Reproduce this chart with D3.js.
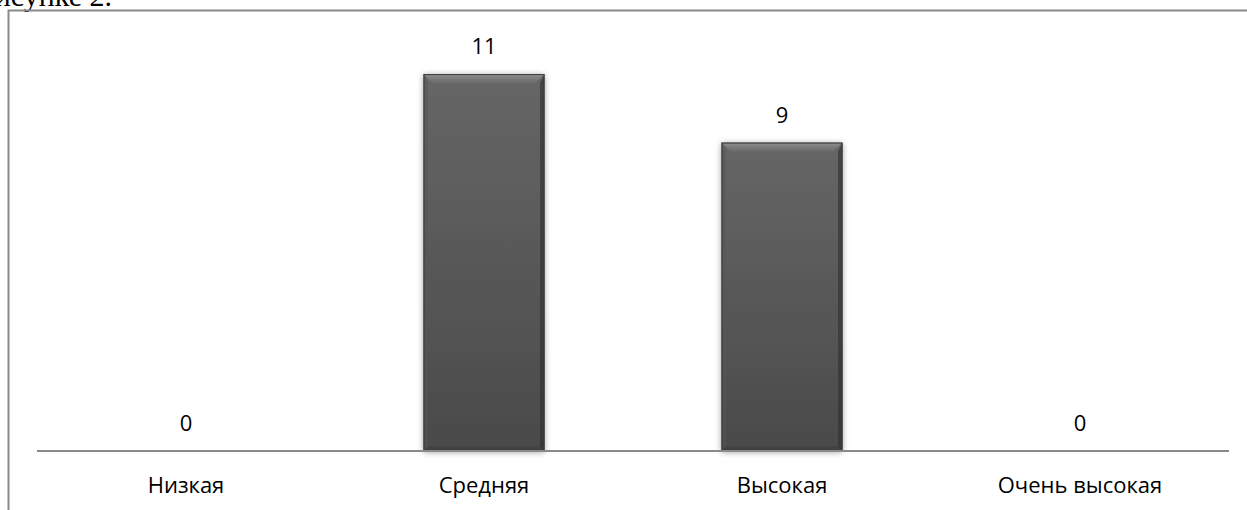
<!DOCTYPE html>
<html><head><meta charset="utf-8">
<script src="https://cdn.jsdelivr.net/npm/d3@7"></script>
<style>html,body{margin:0;padding:0;background:#fff;overflow:hidden}svg{display:block}</style>
</head><body>
<script>
const categories = ["Низкая", "Средняя", "Высокая", "Очень высокая"];
const values = [0, 11, 9, 0];
const yMax = 12;

const W = 1247, H = 510;
const svg = d3.select("body").append("svg").attr("width", W).attr("height", H);
const defs = svg.append("defs");

const body = defs.append("linearGradient").attr("id","body").attr("x1",0).attr("y1",0).attr("x2",0).attr("y2",1);
body.append("stop").attr("offset","0%").attr("stop-color","#666666");
body.append("stop").attr("offset","100%").attr("stop-color","#4a4a4a");
const topG = defs.append("linearGradient").attr("id","topb").attr("x1",0).attr("y1",0).attr("x2",0).attr("y2",1);
topG.append("stop").attr("offset","0%").attr("stop-color","#8e8e8e");
topG.append("stop").attr("offset","100%").attr("stop-color","#6a6a6a");
const sh = defs.append("filter").attr("id","shadow").attr("x","-20%").attr("y","-20%").attr("width","140%").attr("height","140%");
sh.append("feGaussianBlur").attr("in","SourceAlpha").attr("stdDeviation",3);
sh.append("feOffset").attr("dx",0).attr("dy",1).attr("result","b");
sh.append("feComponentTransfer").append("feFuncA").attr("type","linear").attr("slope",0.4);
const m = sh.append("feMerge"); m.append("feMergeNode"); m.append("feMergeNode").attr("in","SourceGraphic");

// caption fragment cut at top (as in the reference)
svg.append("text").attr("x",112).attr("y",6).attr("text-anchor","end")
  .attr("font-family","Liberation Serif, Times New Roman, serif").attr("font-size",30)
  .attr("fill","#000").text("рисунке 2.");

// frame
svg.append("path").attr("d","M8.5,510 V10.5 H1247").attr("fill","none").attr("stroke","#8a8a8a").attr("stroke-width",2);

const x0 = 37, x1 = 1229, yBase = 451;
const p = 1 - 121/298;
const x = d3.scaleBand().domain(categories).range([x0, x1]).paddingInner(p).paddingOuter(p/2);
const y = d3.scaleLinear().domain([0, yMax]).range([yBase, 39.8]);

const bars = svg.append("g");
categories.forEach((c, i) => {
  const v = values[i];
  if (v <= 0) return;
  const bx = x(c), bw = x.bandwidth(), by = y(v), bh = y(0) - y(v);
  const g = bars.append("g");
  g.append("rect").attr("x",bx).attr("y",by).attr("width",bw).attr("height",bh)
    .attr("fill","url(#body)").attr("filter","url(#shadow)");
  const b = 9;
  g.append("path").attr("d",`M${bx},${by} H${bx+bw} L${bx+bw-b},${by+b} H${bx+b} Z`).attr("fill","url(#topb)");
  g.append("path").attr("d",`M${bx},${by} L${bx+b*0.5},${by+b} V${by+bh-b*0.5} L${bx},${by+bh} Z`).attr("fill","#555").attr("opacity",0.5);
  g.append("path").attr("d",`M${bx+bw},${by} L${bx+bw-b*0.5},${by+b} V${by+bh-b*0.5} L${bx+bw},${by+bh} Z`).attr("fill","#2e2e2e").attr("opacity",0.6);
  g.append("path").attr("d",`M${bx},${by+bh} L${bx+b*0.5},${by+bh-b*0.5} H${bx+bw-b*0.5} L${bx+bw},${by+bh} Z`).attr("fill","#3c3c3c").attr("opacity",0.6);
  g.append("rect").attr("x",bx+0.5).attr("y",by+0.5).attr("width",bw-1).attr("height",bh-1).attr("fill","none").attr("stroke","#3a3a3a").attr("stroke-width",1);
});

// axis
svg.append("line").attr("x1",x0).attr("x2",x1).attr("y1",yBase).attr("y2",yBase).attr("stroke","#8a8a8a").attr("stroke-width",2);

const font = "Open Sans, Calibri, sans-serif";
svg.append("g").selectAll("text").data(categories).join("text")
  .attr("x", d => x(d) + x.bandwidth()/2).attr("y", (d,i) => y(values[i]) - 20)
  .attr("text-anchor","middle").attr("font-family",font).attr("font-size",22).attr("fill","#000")
  .text((d,i) => values[i]);

svg.append("g").selectAll("text").data(categories).join("text")
  .attr("x", d => x(d) + x.bandwidth()/2).attr("y", 493)
  .attr("text-anchor","middle").attr("font-family",font).attr("font-size",22).attr("fill","#000")
  .text(d => d);
</script>
</body></html>
